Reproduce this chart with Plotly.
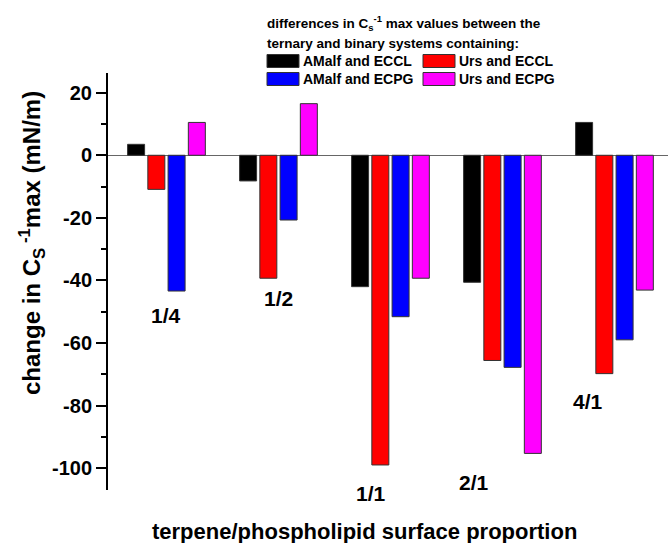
import plotly.graph_objects as go

# ---- data ----
categories = ["1/4", "1/2", "1/1", "2/1", "4/1"]
series_names = ["AMalf and ECCL", "Urs and ECCL", "AMalf and ECPG", "Urs and ECPG"]
amalf_eccl = [3.5, -8.2, -42.0, -40.6, 10.5]
urs_eccl = [-10.9, -39.3, -99.0, -65.6, -69.8]
amalf_ecpg = [-43.4, -20.7, -51.6, -67.8, -59.0]
urs_ecpg = [10.5, 16.5, -39.3, -95.3, -43.1]
y_ticks = [20, 0, -20, -40, -60, -80, -100]

values = [amalf_eccl, urs_eccl, amalf_ecpg, urs_ecpg]
colors = ["#000000", "#ff0000", "#0000ff", "#ff00ff"]

FONT = "Liberation Sans, Arial, sans-serif"
W, H = 668, 543
L, R, T, B = 108, 668, 73, 490  # plot area in pixels

def px(x):
    return (x - L) / (R - L)

def py(y):
    return (B - y) / (B - T)

fig = go.Figure()
for name, vals, col in zip(series_names, values, colors):
    fig.add_trace(go.Bar(
        x=categories, y=vals, name=name,
        marker=dict(color=col, line=dict(color="#333333", width=1)),
        showlegend=False,
    ))

annotations = []
# category labels placed near the bars (pixel positions converted to paper coords)
label_px = [(166, 315), (278, 298), (371, 493), (474, 482), (588, 401)]
for lab, (xx, yy) in zip(categories, label_px):
    annotations.append(dict(x=px(xx), y=py(yy), xref="paper", yref="paper",
                            xanchor="center", yanchor="middle",
                            text="<b>%s</b>" % lab, showarrow=False,
                            font=dict(family=FONT, size=21, color="black")))

# axis titles
annotations.append(dict(x=px(32), y=py(243), xref="paper", yref="paper",
                        xanchor="center", yanchor="middle",
                        text="<b>change in C<sub>S</sub><sup> -1</sup>max (mN/m)</b>",
                        textangle=-90, showarrow=False,
                        font=dict(family=FONT, size=24, color="black")))
annotations.append(dict(x=px(364), y=py(531), xref="paper", yref="paper",
                        xanchor="center", yanchor="middle",
                        text="<b>terpene/phospholipid surface proportion</b>",
                        showarrow=False, font=dict(family=FONT, size=22, color="black")))

# manual legend
annotations.append(dict(x=px(265), y=py(23), xref="paper", yref="paper",
                        xanchor="left", yanchor="middle",
                        text="<b>differences in C<sub>s</sub><sup>-1</sup> max values between the</b>",
                        showarrow=False, font=dict(family=FONT, size=13.5, color="black")))
annotations.append(dict(x=px(265), y=py(43), xref="paper", yref="paper",
                        xanchor="left", yanchor="middle",
                        text="<b>ternary and binary systems containing:</b>",
                        showarrow=False, font=dict(family=FONT, size=13.5, color="black")))
shapes = []
leg_slots = [(267, 61), (423, 61), (267, 79), (423, 79)]
for name, col, (lx, ly) in zip(series_names, colors, leg_slots):
    shapes.append(dict(type="rect", xref="paper", yref="paper",
                       x0=px(lx), x1=px(lx + 32), y0=py(ly - 6.5), y1=py(ly + 6.5),
                       fillcolor=col, line=dict(color="#333333", width=1)))
    annotations.append(dict(x=px(lx + 34), y=py(ly), xref="paper", yref="paper",
                            xanchor="left", yanchor="middle",
                            text="<b>%s</b>" % name, showarrow=False,
                            font=dict(family=FONT, size=14, color="black")))

fig.update_layout(
    width=W, height=H,
    margin=dict(l=L, r=W - R, t=T, b=H - B, pad=0),
    paper_bgcolor="white", plot_bgcolor="white",
    barmode="group", bargap=0.277, bargroupgap=0.16,
    font=dict(family=FONT, color="black"),
    annotations=annotations, shapes=shapes,
    showlegend=False,
)
fig.update_xaxes(range=[-0.522, 4.478], showticklabels=False, ticks="",
                 showline=False, showgrid=False, zeroline=False)
fig.update_yaxes(range=[-107, 26.3], tickvals=y_ticks,
                 ticktext=["<b>%d</b>" % v for v in y_ticks],
                 tickfont=dict(family=FONT, size=20, color="black"),
                 ticks="outside", ticklen=10, tickwidth=2, tickcolor="black",
                 minor=dict(dtick=10, ticks="outside", ticklen=5, tickwidth=2, tickcolor="black"),
                 showline=True, linecolor="black", linewidth=2,
                 showgrid=False, zeroline=True, zerolinecolor="#666666", zerolinewidth=1)

fig.write_html("out.html")
